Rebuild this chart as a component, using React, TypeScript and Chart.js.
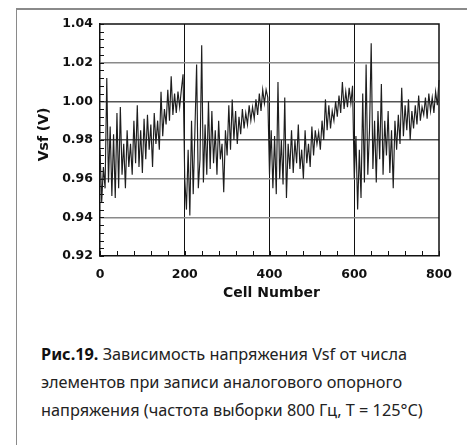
import React, { useEffect, useRef } from "react";
import { Chart, registerables } from "chart.js";

Chart.register(...registerables);

// ---- data (one value every 4 cells) ----
const cellStep = 4;
const segment1 = [
  0.975, 0.948, 0.966, 0.955, 1.012, 0.958, 0.987, 0.951, 0.983, 0.95,
  0.994, 0.955, 0.997, 0.962, 0.978, 0.955, 0.985, 0.966, 0.978, 0.962,
  0.99, 0.968, 0.998, 0.966, 0.985, 0.963, 0.991, 0.97, 0.993, 0.975,
  0.988, 0.966, 0.994, 0.978, 0.99, 0.975, 1.005, 0.982, 0.996, 0.988,
  1.006, 0.99, 1.013, 0.993, 1.004, 0.994, 1.005, 0.997, 1.006, 1.014,
];
const segment2 = [
  0.96, 0.944, 0.975, 0.941, 0.99, 0.952, 0.985, 1.019, 0.955, 0.97,
  1.029, 0.958, 0.988, 0.962, 1.0, 0.965, 0.995, 0.968, 0.985, 0.962,
  0.99, 0.97, 0.978, 0.953, 0.985, 0.972, 0.998, 0.975, 1.001, 0.98,
  0.995, 0.978, 0.992, 0.983, 0.996, 0.986, 0.994, 0.988, 0.998, 0.99,
  0.997, 0.991, 1.001, 0.993, 1.004, 0.995, 1.006, 0.999, 1.006, 1.002,
];
const segment3 = [
  0.962, 0.985, 0.955, 0.982, 0.952, 1.01, 0.96, 0.98, 0.957, 1.002,
  0.95, 0.978, 0.965, 0.985, 0.963, 0.98, 0.968, 0.988, 0.965, 0.975,
  0.96, 0.985, 0.968, 0.978, 0.966, 0.987, 0.972, 0.985, 0.978, 0.984,
  0.975, 0.99, 0.98, 1.001, 0.985, 0.998, 0.986, 0.995, 0.99, 1.0,
  0.992, 1.003, 0.994, 1.01, 0.996, 1.005, 0.997, 1.007, 0.999, 1.008,
];
const segment4 = [
  0.96, 0.982, 0.944, 0.975, 0.95, 1.004, 0.958, 1.019, 0.962, 0.985,
  1.03, 0.965, 0.99, 0.958, 0.995, 0.97, 1.009, 0.962, 0.99, 0.972,
  0.995, 0.963, 0.985, 0.955, 0.99, 0.975, 0.993, 0.978, 1.007, 0.982,
  0.998, 0.985, 1.001, 0.98, 0.995, 0.986, 0.998, 0.988, 1.003, 0.99,
  0.997, 0.993, 1.002, 0.991, 1.004, 0.995, 1.002, 0.994, 1.005, 0.998,
];
const tailCells = [800, 801, 802, 803, 804];
const tailValues = [1.011, 0.976, 0.955, 0.968, 0.947];

const xTicks = [0, 200, 400, 600, 800];
const yTicks = [0.92, 0.94, 0.96, 0.98, 1.0, 1.02, 1.04];
const xTitle = "Cell Number";
const yTitle = "Vsf (V)";
const captionBold = "Рис.19.";
const captionLines = [
  " Зависимость напряжения Vsf от числа",
  "элементов при записи аналогового опорного",
  "напряжения (частота выборки 800 Гц, T = 125°C)",
];

const Y_MINOR = 0.004;
const X_MINOR = 40;
const AXIS_FONT = "DejaVu Sans";

export default function App() {
  const canvasRef = useRef<HTMLCanvasElement | null>(null);

  useEffect(() => {
    const canvas = canvasRef.current;
    if (!canvas) return;
    const series = [...segment1, ...segment2, ...segment3, ...segment4];
    const points = series
      .map((v, i) => ({ x: i * cellStep, y: v }))
      .concat(tailCells.map((c, i) => ({ x: c, y: tailValues[i] })));

    const decor = {
      id: "decor",
      beforeDatasetsDraw(chart: any) {
        const { ctx, chartArea: a, scales } = chart;
        const x = scales.x;
        const y = scales.y;
        ctx.save();
        ctx.strokeStyle = "#111";
        ctx.lineWidth = 1.5;
        ctx.beginPath();
        ctx.moveTo(a.left, a.top);
        ctx.lineTo(a.right, a.top);
        ctx.lineTo(a.right, a.bottom);
        ctx.stroke();
        ctx.lineWidth = 1;
        ctx.beginPath();
        for (let v = yTicks[0]; v <= yTicks[yTicks.length - 1] + 1e-9; v += Y_MINOR) {
          const py = Math.round(y.getPixelForValue(v)) + 0.5;
          ctx.moveTo(a.left, py);
          ctx.lineTo(a.left + 4, py);
        }
        for (let c = xTicks[0]; c <= xTicks[xTicks.length - 1]; c += X_MINOR) {
          const px = Math.round(x.getPixelForValue(c)) + 0.5;
          ctx.moveTo(px, a.bottom);
          ctx.lineTo(px, a.bottom - 5);
        }
        ctx.stroke();
        ctx.restore();
      },
      afterDraw(chart: any) {
        const { ctx, chartArea: a } = chart;
        ctx.save();
        ctx.fillStyle = "#111";
        ctx.font = `bold 14px "${AXIS_FONT}"`;
        ctx.textAlign = "center";
        ctx.textBaseline = "middle";
        ctx.fillText(xTitle, (a.left + a.right) / 2 + 2, a.bottom + 37.5);
        ctx.translate(a.left - 55.7, a.top + 110.4);
        ctx.rotate(-Math.PI / 2);
        ctx.fillText(yTitle, 0, 0);
        ctx.restore();
      },
    };

    const tickFont = { family: AXIS_FONT, size: 12.5, weight: "bold" as const };

    const chart = new Chart(canvas, {
      type: "line",
      data: {
        datasets: [
          {
            data: points,
            borderColor: "#1e1e1e",
            borderWidth: 1.15,
            pointRadius: 0,
            tension: 0,
            fill: false,
            clip: false as any,
          },
        ],
      },
      options: {
        animation: false,
        responsive: false,
        events: [],
        layout: { padding: { top: 24, right: 34, left: 0, bottom: 0 } },
        plugins: { legend: { display: false }, tooltip: { enabled: false } },
        scales: {
          x: {
            type: "linear",
            min: xTicks[0],
            max: xTicks[xTicks.length - 1],
            afterBuildTicks: (s: any) => {
              s.ticks = xTicks.map((v) => ({ value: v }));
            },
            afterFit: (s: any) => {
              s.height = 54;
            },
            ticks: {
              font: tickFont,
              color: "#111",
              padding: 11,
              maxRotation: 0,
              autoSkip: false,
              callback: (v: any) => String(v),
            },
            grid: {
              drawTicks: false,
              lineWidth: 1,
              color: (c: any) =>
                c.tick && c.tick.value > xTicks[0] && c.tick.value < xTicks[xTicks.length - 1]
                  ? "#111"
                  : "rgba(0,0,0,0)",
            },
            border: { display: true, color: "#111", width: 1.5 },
          },
          y: {
            type: "linear",
            min: yTicks[0],
            max: yTicks[yTicks.length - 1],
            afterBuildTicks: (s: any) => {
              s.ticks = yTicks.map((v) => ({ value: v }));
            },
            afterFit: (s: any) => {
              s.width = 100;
            },
            ticks: {
              font: tickFont,
              color: "#111",
              padding: 7,
              autoSkip: false,
              callback: (v: any) => Number(v).toFixed(2),
            },
            grid: {
              drawTicks: false,
              lineWidth: 1.5,
              color: (c: any) => {
                const v = c.tick ? c.tick.value : 0;
                if (v <= yTicks[0] + 1e-6 || v >= yTicks[yTicks.length - 1] - 1e-6) return "rgba(0,0,0,0)";
                if (Math.abs(v - 1.0) < 1e-6 || Math.abs(v - 0.98) < 1e-6) return "#555";
                return "#8a8a8a";
              },
            },
            border: { display: true, color: "#111", width: 1.5 },
          },
        },
      },
      plugins: [decor],
    });
    return () => chart.destroy();
  }, []);

  const lineTop = 339.6;
  const lineGap = 28.3;
  const capStyle: React.CSSProperties = {
    position: "absolute",
    left: 41,
    whiteSpace: "nowrap",
    fontFamily: '"Noto Sans", sans-serif',
    fontSize: 16.3,
    lineHeight: `${lineGap}px`,
    color: "#222",
  };

  return (
    <div
      style={{
        position: "absolute",
        left: 0,
        top: 0,
        width: 473,
        height: 445,
        background: "#fff",
        overflow: "hidden",
      }}
    >
      <div style={{ position: "absolute", left: 15.5, top: 8, width: 1.5, height: 437, background: "#8a8a8a" }} />
      <div style={{ position: "absolute", left: 15.5, top: 8, width: 451, height: 1.5, background: "#8a8a8a" }} />
      <canvas
        ref={canvasRef}
        width={473}
        height={310}
        style={{ position: "absolute", left: 0, top: 0, width: 473, height: 310 }}
      />
      {captionLines.map((t, i) => (
        <div key={i} style={{ ...capStyle, top: lineTop + i * lineGap }}>
          {i === 0 ? <b style={{ color: "#111" }}>{captionBold}</b> : null}
          {t}
        </div>
      ))}
    </div>
  );
}
